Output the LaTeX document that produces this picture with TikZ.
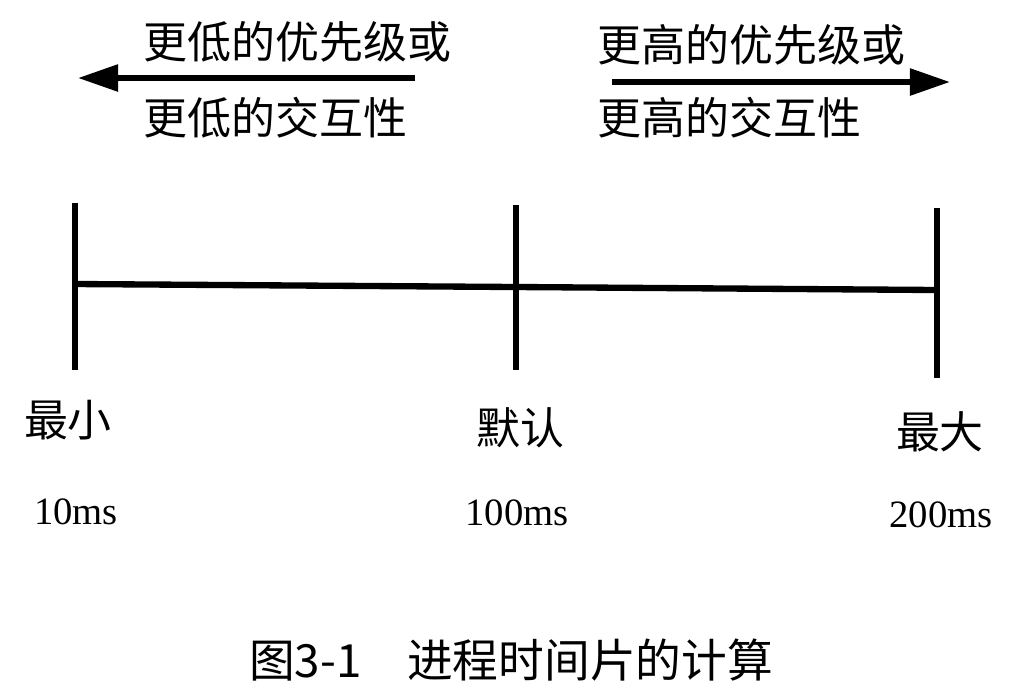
\documentclass[tikz,border=0pt]{standalone}
\usepackage{fontspec}
\setmainfont{Liberation Serif}
\newfontfamily\cjk{Noto Sans CJK SC}
\usetikzlibrary{arrows.meta,positioning}
\tikzset{
  lbl/.style  = {font=\cjk\fontsize{12.5}{14}\selectfont, inner sep=0pt, anchor=west},
  tick/.style = {font=\cjk\fontsize{12.5}{14}\selectfont, inner sep=0pt},
  val/.style  = {font=\fontsize{11}{13}\selectfont, inner sep=0pt},
  bar/.style  = {line width=1.8pt},
  dir/.style  = {-{Triangle[length=4mm,width=2.6mm]}, line width=1.6pt},
  figcap/.style = {font=\cjk\fontsize{13}{15}\selectfont, inner sep=0pt}
}
\begin{document}
\begin{tikzpicture}[x=0.01cm,y=-0.01cm]
  \useasboundingbox (0,0) rectangle (1020,690);
  % ---- top: direction arrows ----
  \node[lbl] (lowa) at (143,42) {更低的优先级或};
  \node[lbl] (lowb) at (143,118) {更低的交互性};
  \node[lbl] (higha) at (597,45) {更高的优先级或};
  \node[lbl] (highb) at (597,118) {更高的交互性};
  \coordinate (ls) at (415,78);  \coordinate (le) at (78,78);
  \coordinate (rs) at (612,82);  \coordinate (re) at (950,82);
  \draw[dir] (ls) -- (le);
  \draw[dir] (rs) -- (re);
  % ---- middle: scale ----
  \coordinate (p0) at (75,284);  \coordinate (p1) at (516,287);  \coordinate (p2) at (937,290);
  \draw[bar] (p0) -- (p1) -- (p2);
  \draw[bar] (75,203) -- (75,370);
  \draw[bar] (516,205) -- (516,370);
  \draw[bar] (937,208) -- (937,378);
  \node[tick] (tmin) at (68,420) {最小};
  \node[tick] (tdef) at (520,428) {默认};
  \node[tick] (tmax) at (940,432) {最大};
  \node[val] (vmin) at (76,512) {10ms};
  \node[val] (vdef) at (517,513) {100ms};
  \node[val] (vmax) at (941,515) {200ms};
  % ---- caption ----
  \node[figcap] (fig) at (511,660) {图3-1\hspace{1em}进程时间片的计算};
\end{tikzpicture}
\end{document}
